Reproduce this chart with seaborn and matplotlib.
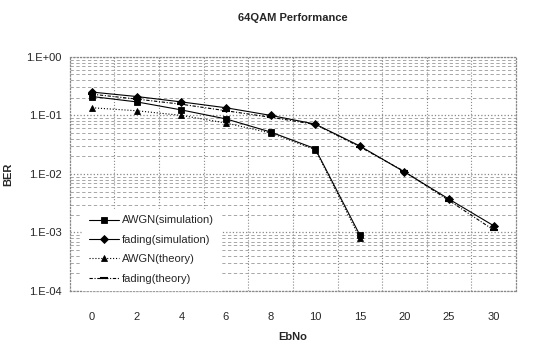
import numpy as np
import pandas as pd
import seaborn as sns
import matplotlib.pyplot as plt
from matplotlib.ticker import LogLocator, FixedLocator, NullFormatter, FuncFormatter

# EbNo categories (equally spaced, like a category axis)
ebno = ["0", "2", "4", "6", "8", "10", "15", "20", "25", "30"]

awgn_sim = [0.21, 0.17, 0.124, 0.087, 0.052, 0.027, 0.0009]
fading_sim = [0.25, 0.21, 0.17, 0.135, 0.10, 0.071, 0.030, 0.0108, 0.0037, 0.0013]
awgn_theory = [0.135, 0.12, 0.10, 0.074, 0.05, 0.026, 0.0008]
fading_theory = [0.23, 0.19, 0.155, 0.12, 0.093, 0.07, 0.029, 0.011, 0.0035, 0.0011]

series = {
    "AWGN(simulation)": awgn_sim,
    "fading(simulation)": fading_sim,
    "AWGN(theory)": awgn_theory,
    "fading(theory)": fading_theory,
}
styles = {
    "AWGN(simulation)": dict(marker="s", linestyle="-", markersize=4),
    "fading(simulation)": dict(marker="D", linestyle="-", markersize=4),
    "AWGN(theory)": dict(marker="^", linestyle=":", markersize=4),
    "fading(theory)": dict(marker="_", linestyle=(0, (3, 1.5, 1, 1.5)), markersize=6, markeredgewidth=1.5),
}

sns.set_style("white")
plt.rcParams["font.family"] = ["Liberation Sans", "DejaVu Sans"]
plt.rcParams["font.size"] = 8

fig = plt.figure(figsize=(5.37, 3.51), dpi=100)
ax = fig.add_axes([0.130, 0.171, 0.831, 0.667])

for name, vals in series.items():
    df = pd.DataFrame({"EbNo": ebno[:len(vals)], "BER": vals})
    sns.pointplot(data=df, x="EbNo", y="BER", order=ebno, color="black",
                  errorbar=None, linewidth=0.8, label=name, ax=ax, **styles[name])

ax.set_yscale("log")
ax.set_ylim(1e-4, 1)
ax.set_xlim(-0.5, len(ebno) - 0.5)

ax.yaxis.set_major_locator(LogLocator(base=10, numticks=10))
ax.yaxis.set_major_formatter(FuncFormatter(lambda v, p: "1.E%+03d" % int(round(np.log10(v)))))
ax.yaxis.set_minor_locator(LogLocator(base=10, subs=np.arange(2, 10), numticks=20))
ax.yaxis.set_minor_formatter(NullFormatter())
ax.xaxis.set_minor_locator(FixedLocator(np.arange(0.5, len(ebno) - 1, 1)))

ax.grid(which="major", axis="y", color="#888888", linestyle=":", linewidth=0.9)
ax.grid(which="minor", axis="y", color="#999999", linestyle=(0, (4, 3)), linewidth=0.6)
ax.grid(which="minor", axis="x", color="#888888", linestyle=":", linewidth=0.8)
ax.grid(which="major", axis="x", visible=False)

for s in ax.spines.values():
    s.set_color("#888888")
    s.set_linestyle(":")
    s.set_linewidth(0.9)

ax.tick_params(axis="x", which="both", length=0, pad=15, labelsize=8)
ax.tick_params(axis="y", which="major", length=0, pad=6, labelsize=8)
ax.tick_params(axis="y", which="minor", length=0)

ax.set_xlabel("EbNo", fontweight="bold", fontsize=8, labelpad=7)
ax.set_ylabel("BER", fontweight="bold", fontsize=8, labelpad=9)
ax.set_title("64QAM Performance", fontweight="bold", fontsize=8, pad=26)

leg = ax.legend(loc="upper left", bbox_to_anchor=(0.015, 0.375), frameon=True,
                fancybox=False, framealpha=1, edgecolor="white", facecolor="white",
                fontsize=8, handlelength=2.7, labelspacing=0.85, borderpad=0.6,
                handletextpad=0.3)

fig.savefig("out.png", dpi=100)
